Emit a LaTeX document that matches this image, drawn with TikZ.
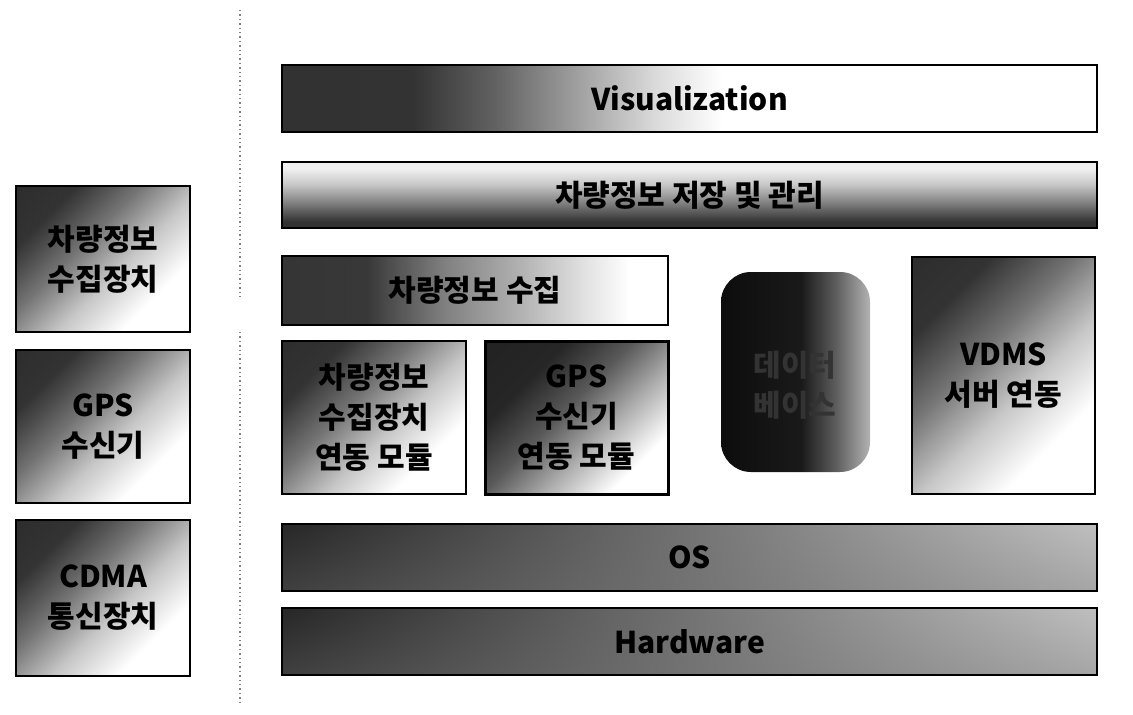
\documentclass[tikz,border=0pt]{standalone}
\usepackage{fontspec}
\setmainfont{Noto Sans CJK KR}
\usetikzlibrary{shapes.geometric,shadings}
\pgfdeclareverticalshading{diagfade}{100bp}{color(0bp)=(white); color(30bp)=(white); color(44bp)=(black!22); color(58bp)=(black!55); color(72bp)=(black!80); color(100bp)=(black!85)}
\pgfdeclareverticalshading{diagdark}{100bp}{color(0bp)=(white); color(27bp)=(white); color(40bp)=(black!30); color(54bp)=(black!65); color(68bp)=(black!85); color(100bp)=(black!88)}
\pgfdeclarehorizontalshading{hfade}{100bp}{color(0bp)=(black!82); color(33bp)=(black!80); color(38bp)=(black!62); color(43bp)=(black!38); color(48bp)=(black!14); color(52bp)=(white); color(100bp)=(white)}
\pgfdeclarehorizontalshading{cfade}{100bp}{color(0bp)=(black!82); color(36bp)=(black!78); color(46bp)=(black!50); color(56bp)=(black!30); color(64bp)=(black!12); color(70bp)=(white); color(100bp)=(white)}
\pgfdeclareverticalshading{vfade}{100bp}{color(0bp)=(black!85); color(30bp)=(black!80); color(44bp)=(black!50); color(58bp)=(black!22); color(70bp)=(black!6); color(100bp)=(black!6)}
\pgfdeclarehorizontalshading{dbfade}{100bp}{color(0bp)=(black!95); color(25bp)=(black!95); color(52bp)=(black!90); color(64bp)=(black!62); color(75bp)=(black!30); color(100bp)=(black!30)}
\begin{document}
\begin{tikzpicture}[x=1pt,y=-1pt,
  box/.style={draw=black, line width=2.2pt, inner sep=0pt, font=\bfseries\fontsize{30}{40}\selectfont, align=center},
  hbar/.style={box, minimum width=815pt, minimum height=67pt},
  diag/.style={shading=diagfade, shading angle=45},
  diagd/.style={shading=diagdark, shading angle=45},
  layer/.style={upper left=black!85, lower left=black!75, upper right=black!25, lower right=black!35},
]
\useasboundingbox (0,0) rectangle (1133,715);
\fill[white] (0,0) rectangle (1133,715);
% dotted separator
\coordinate (s1) at (240,10);
\coordinate (s2) at (240,300);
\coordinate (s3) at (240,332);
\coordinate (s4) at (240,705);
\draw[black!50, line width=1.6pt, dash pattern=on 1.4pt off 3pt] (s1) -- (s2) (s3) -- (s4);

% left devices
\node[box, diag, minimum width=174pt, minimum height=146pt] (dev1) at (103,259) {차량정보\\수집장치};
\node[box, diag, minimum width=174pt, minimum height=153pt] (dev2) at (103,426.5) {GPS\\수신기};
\node[box, diag, minimum width=174pt, minimum height=156pt] (dev3) at (103,598) {CDMA\\통신장치};

% right stack
\node[hbar, shading=hfade] (vis) at (689.5,98.5) {Visualization};
\node[hbar, shading=vfade, minimum height=66pt] (store) at (689.5,195) {차량정보 저장 및 관리};
\node[box, shading=cfade, minimum width=386pt, minimum height=69pt] (collect) at (475,290.5) {차량정보 수집};
\node[box, diag, minimum width=184pt, minimum height=153pt] (mod1) at (374,417.5) {차량정보\\수집장치\\연동 모듈};
\node[box, diagd, line width=3pt, minimum width=183pt, minimum height=153pt] (mod2) at (576.5,417.5) {GPS\\수신기\\연동 모듈};
\node[box, diag, minimum width=183pt, minimum height=237pt] (vdms) at (1003.5,375.5) {VDMS\\서버 연동};
\node[hbar, layer] (os) at (689.5,557.5) {OS};
\node[hbar, layer] (hw) at (689.5,641.5) {Hardware};

% database cylinder
\shade[shading=dbfade, rounded corners=30pt] (721,272) rectangle (870,472);
\node[font=\bfseries\fontsize{30}{40}\selectfont, align=center, text=black!80] (db) at (795,385) {데이터\\베이스};
\end{tikzpicture}
\end{document}
